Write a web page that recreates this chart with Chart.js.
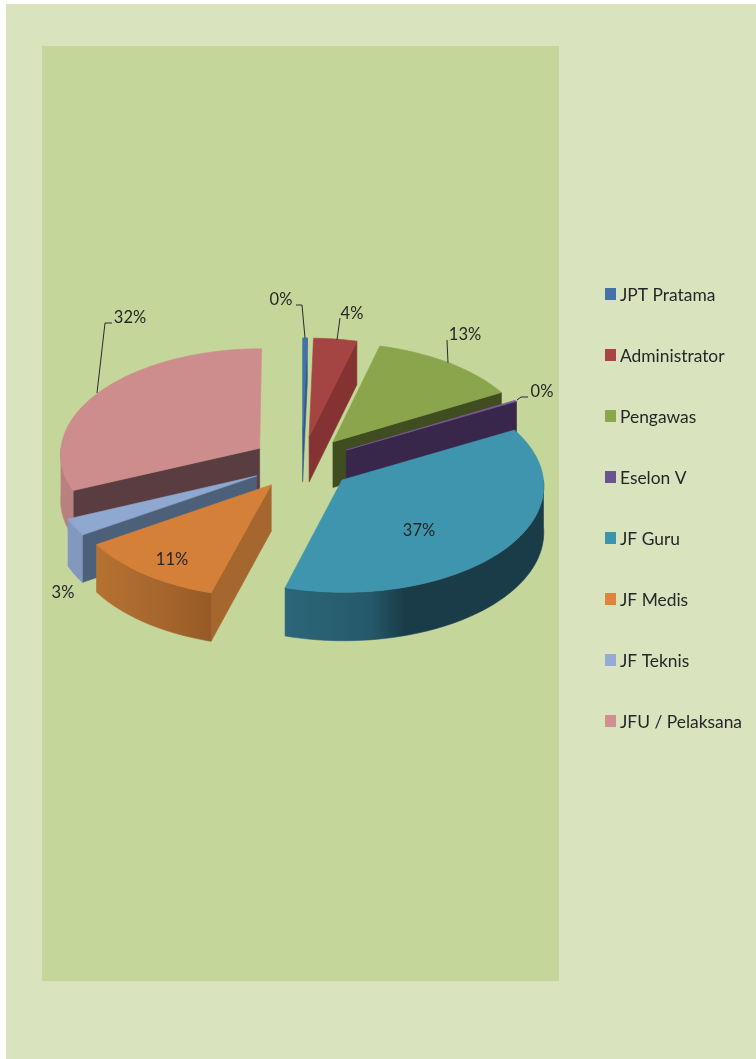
<!DOCTYPE html>
<html><head><meta charset="utf-8">
<style>html,body{margin:0;padding:0;background:#fff}canvas{display:block}</style>
<script src="https://cdn.jsdelivr.net/npm/chart.js@4"></script>
</head><body>
<canvas id="c" width="756" height="1059"></canvas>
<script>
const categories = ['JPT Pratama','Administrator','Pengawas','Eselon V','JF Guru','JF Medis','JF Teknis','JFU / Pelaksana'];
const shares = [0.4,3.7,12.8,0.2,37.4,11.4,2.6,31.5];
const legendColors = ['#4472a8','#a84544','#8ba64c','#6a5490','#3b93ad','#dd843d','#97aad3','#d09092'];
const topColors = ['#4272a8','#a54543','#8aa54c','#7a5c9c','#3f95ae','#d58038','#8fa8cf','#cd8d8c'];
const edgeColors = ['#335a86','#853332','#3f4d20','#38274a','#1a3d4a','#a5672d','#4d6079','#5a3d40'];
const rimStops = [
  [[0,'#335a86'],[1,'#335a86']],
  [[0,'#853332'],[1,'#853332']],
  [[0,'#5e7333'],[1,'#5e7333']],
  [[0,'#38274a'],[1,'#38274a']],
  [[0,'#2c6679'],[0.33,'#25596a'],[0.46,'#1a3c49'],[1,'#1a3c49']],
  [[0,'#b57232'],[0.6,'#a5652c'],[1,'#975a27']],
  [[0,'#8298bf'],[1,'#8298bf']],
  [[0,'#b98080'],[1,'#b98080']]
];
// label placement: [text centre x, y], then leader-line vertices
const labelPlacement = [
  {at:[281,300],line:[[296,305],[302,305],[305,338]]},
  {at:[352,314],line:[[340,318],[337,340]]},
  {at:[465,335],line:[[447,340],[448,363]]},
  {at:[542,392],line:[[528,397],[521,397],[517,400]]},
  {at:[419,531]},
  {at:[172,560]},
  {at:[63,593]},
  {at:[130,318],line:[[112,323],[105,323],[97,393]]}
];
const EXPLODE = 51, TILT = 0.529, PERSP = 0.00023, DEPTH = 46;
const FONT = '16.5px Lato, sans-serif', LEGEND_FONT = '17.4px Lato, sans-serif', TEXT = '#262626';

const pie3d = {
  id:'pie3d',
  beforeDraw(chart){
    const g = chart.ctx;
    g.fillStyle='#ffffff'; g.fillRect(0,0,756,1059);
    g.fillStyle='#d9e4bf'; g.fillRect(6,4,750,1055);
    g.fillStyle='#c4d69a'; g.fillRect(42,46,517,935);
  },
  beforeDatasetsDraw(chart){
    const g = chart.ctx, arcs = chart.getDatasetMeta(0).data;
    const cx = arcs[0].x, cy = arcs[0].y;
    const proj = (u,v,h)=>{ const s = 1+PERSP*v; return [cx+u*s, cy+TILT*v*s+(h?DEPTH*s:0)]; };
    const slices = arcs.map((a,i)=>{
      const mid=(a.startAngle+a.endAngle)/2;
      return {i,a,ou:Math.cos(mid)*EXPLODE,ov:Math.sin(mid)*EXPLODE};
    }).sort((p,q)=>p.ov-q.ov);
    const poly=(pts,fill)=>{
      g.beginPath(); pts.forEach((p,k)=>k?g.lineTo(p[0],p[1]):g.moveTo(p[0],p[1])); g.closePath();
      g.fillStyle=fill; g.strokeStyle=fill; g.lineWidth=0.6; g.fill(); g.stroke();
    };
    for(const sl of slices){
      const {i,a,ou,ov}=sl, R=a.outerRadius, s=a.startAngle, e=a.endAngle;
      const rimPt=(t,h)=>proj(ou+R*Math.cos(t),ov+R*Math.sin(t),h);
      const tip=h=>proj(ou,ov,h);
      const wall=t=>[tip(0),rimPt(t,0),rimPt(t,1),tip(1)];
      if(Math.cos(s)<-0.001) poly(wall(s),edgeColors[i]);
      if(Math.cos(e)>0.001) poly(wall(e),edgeColors[i]);
      // outer rim, the part of the arc facing the viewer
      const lo=Math.max(s,0), hi=Math.min(e,Math.PI);
      if(hi>lo){
        const up=[],dn=[];
        for(let k=0;k<=60;k++){const t=lo+(hi-lo)*k/60; up.push(rimPt(t,0)); dn.unshift(rimPt(t,1));}
        const xs=up.concat(dn).map(p=>p[0]);
        const gr=g.createLinearGradient(Math.min(...xs),0,Math.max(...xs),0);
        rimStops[i].forEach(st=>gr.addColorStop(st[0],st[1]));
        poly(up.concat(dn),gr);
      }
      const top=[tip(0)];
      const n=Math.max(4,Math.ceil((e-s)*60));
      for(let k=0;k<=n;k++) top.push(rimPt(s+(e-s)*k/n,0));
      poly(top,topColors[i]);
    }
    return false;
  },
  afterDraw(chart){
    const g=chart.ctx, vals=chart.data.datasets[0].data;
    const total=vals.reduce((p,q)=>p+q,0);
    g.save();
    g.font=FONT; g.textBaseline='middle';
    labelPlacement.forEach((l,i)=>{
      if(l.line){
        g.beginPath(); l.line.forEach((p,k)=>k?g.lineTo(p[0],p[1]):g.moveTo(p[0],p[1]));
        g.strokeStyle='#2a2a2a'; g.lineWidth=1; g.stroke();
      }
      g.fillStyle=TEXT; g.textAlign='center';
      g.fillText(Math.round(vals[i]/total*100)+'%',l.at[0],l.at[1]);
    });
    g.font=LEGEND_FONT;
    categories.forEach((c,i)=>{
      const y=294+61*i;
      g.fillStyle=legendColors[i]; g.fillRect(605,y-6,11,12);
      g.fillStyle=TEXT; g.textAlign='left';
      g.fillText(c,620,y+1);
    });
    g.restore();
  }
};

new Chart(document.getElementById('c'),{
  type:'pie',
  data:{labels:categories,datasets:[{data:shares,backgroundColor:topColors,borderWidth:0,radius:200}]},
  options:{
    responsive:false,animation:false,
    layout:{padding:{left:51,right:203,top:212,bottom:345}},
    plugins:{legend:{display:false},tooltip:{enabled:false}}
  },
  plugins:[pie3d]
});
</script>
</body></html>
